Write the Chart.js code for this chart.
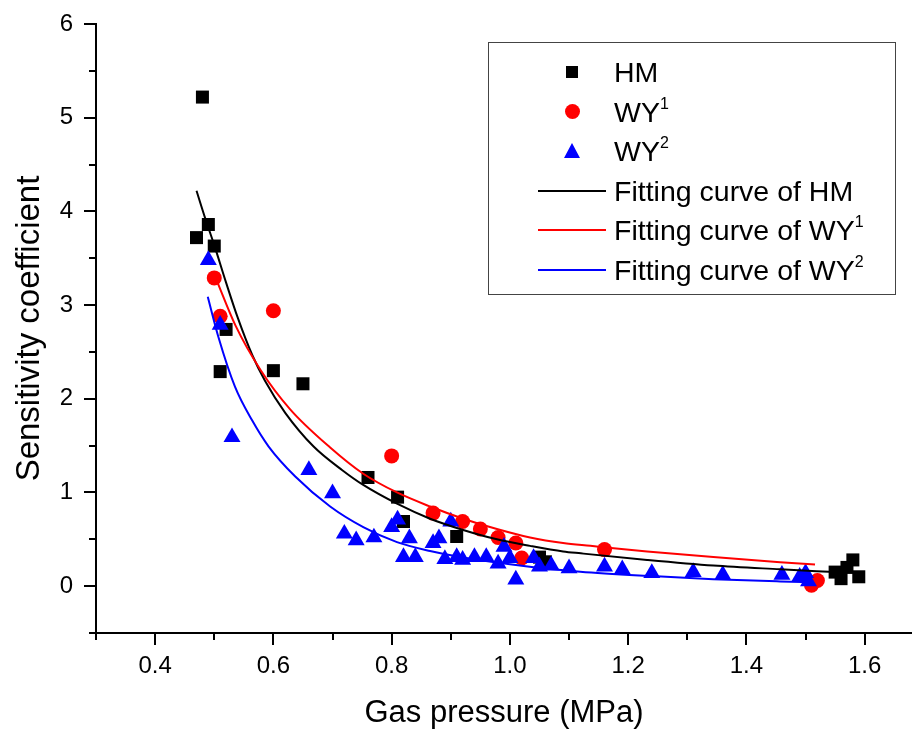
<!DOCTYPE html>
<html>
<head>
<meta charset="utf-8">
<script src="https://cdn.jsdelivr.net/npm/chart.js@4.4.1/dist/chart.umd.min.js"></script>
<style>
    body {margin: 0; background: #fff;}
    #wrap {position: relative; width: 912px; height: 731px;}
    #legend {position: absolute; left: 488px; top: 42px; width: 406px; height: 251px; border: 1px solid #444;
        font-family: 'Liberation Sans', Arial, sans-serif; font-size: 28.5px; color: #000;}
    #legend .row {position: absolute; left: 0; width: 100%; height: 40px; line-height: 40px; white-space: nowrap;}
    #legend .txt {position: absolute; left: 125px; top: 0;}
    #legend sup {font-size: 16px; vertical-align: baseline; position: relative; top: -13px; line-height: 0;}
    #legend .mk {position: absolute;}
</style>
</head>
<body>
<div id="wrap">
    <canvas id="myChart" width="912" height="731"></canvas>
    <div id="legend"></div>
</div>
<script>
// scatter data
const hmX = [0.47, 0.48, 0.49, 0.50, 0.51, 0.52, 0.60, 0.65, 0.76, 0.81, 0.82, 0.91, 1.05, 1.06, 1.55, 1.56, 1.57, 1.58, 1.59];
const hmY = [3.72, 5.22, 3.86, 3.63, 2.29, 2.74, 2.30, 2.16, 1.16, 0.95, 0.69, 0.53, 0.31, 0.26, 0.15, 0.08, 0.20, 0.28, 0.10];

const wy1X = [0.50, 0.51, 0.60, 0.80, 0.87, 0.92, 0.95, 0.98, 1.01, 1.02, 1.16, 1.51, 1.52];
const wy1Y = [3.29, 2.88, 2.94, 1.39, 0.78, 0.69, 0.61, 0.52, 0.46, 0.30, 0.39, 0.01, 0.06];

const wy2X = [0.49, 0.51, 0.53, 0.66, 0.70, 0.72, 0.74, 0.77, 0.80, 0.81, 0.83, 0.82, 0.84, 0.87, 0.88, 0.89, 0.90, 0.91, 0.92,
    0.94, 0.96, 0.98, 0.99, 1.00, 1.01, 1.04, 1.05, 1.07, 1.10, 1.16, 1.19, 1.24, 1.31, 1.36, 1.46, 1.49, 1.50, 1.505];
const wy2Y = [3.48, 2.79, 1.59, 1.24, 0.99, 0.56, 0.49, 0.52, 0.63, 0.71, 0.51, 0.31, 0.31, 0.46, 0.51, 0.29, 0.69, 0.31, 0.28,
    0.31, 0.31, 0.24, 0.42, 0.30, 0.07, 0.30, 0.21, 0.22, 0.19, 0.21, 0.18, 0.14, 0.15, 0.12, 0.12, 0.10, 0.14, 0.05];

// fitting curves, points
const fitHmX = [0.47, 0.485, 0.50, 0.52, 0.54, 0.564, 0.586, 0.62, 0.668, 0.716, 0.752, 0.809, 0.865, 0.921, 0.978, 1.034, 1.09, 1.12, 1.232, 1.344, 1.457, 1.55];
const fitHmY = [4.22, 3.92, 3.64, 3.24, 2.86, 2.47, 2.19, 1.85, 1.49, 1.24, 1.08, 0.88, 0.72, 0.60, 0.50, 0.43, 0.37, 0.35, 0.28, 0.22, 0.18, 0.15];

const fitWy1X = [0.503, 0.536, 0.578, 0.628, 0.696, 0.752, 0.809, 0.865, 0.921, 0.978, 1.034, 1.09, 1.136, 1.232, 1.344, 1.457, 1.516];
const fitWy1Y = [3.28, 2.78, 2.31, 1.89, 1.48, 1.20, 1.00, 0.85, 0.72, 0.61, 0.52, 0.46, 0.43, 0.37, 0.31, 0.255, 0.23];

const fitWy2X = [0.489, 0.507, 0.535, 0.564, 0.592, 0.637, 0.696, 0.752, 0.809, 0.865, 0.921, 1.03, 1.119, 1.232, 1.344, 1.457, 1.513];
const fitWy2Y = [3.09, 2.66, 2.13, 1.77, 1.49, 1.17, 0.85, 0.63, 0.47, 0.375, 0.305, 0.21, 0.155, 0.11, 0.075, 0.05, 0.04];

const seriesNames = ['HM', 'WY¹', 'WY²'];
const seriesColors = ['#000000', '#ff0000', '#0000ff'];
const xTicks = [0.4, 0.6, 0.8, 1.0, 1.2, 1.4, 1.6];
const xMinor = [0.3, 0.5, 0.7, 0.9, 1.1, 1.3, 1.5];
const yTicks = [0, 1, 2, 3, 4, 5, 6];
const yMinor = [-0.5, 0.5, 1.5, 2.5, 3.5, 4.5, 5.5];

const pts = (xs, ys) => xs.map((x, i) => ({x: x, y: ys[i]}));

function scatterSet(i, xs, ys, style, radius, order) {
    return {
        label: seriesNames[i], data: pts(xs, ys), order: order,
        pointStyle: style, pointRadius: radius, pointHoverRadius: radius,
        backgroundColor: seriesColors[i], borderColor: seriesColors[i], pointBorderWidth: 0,
        showLine: false
    };
}

function fitSet(i, xs, ys, order) {
    return {
        label: 'Fitting curve of ' + seriesNames[i], data: pts(xs, ys), order: order,
        type: 'line', showLine: true, pointRadius: 0, borderWidth: 2, fill: false,
        borderColor: seriesColors[i], backgroundColor: seriesColors[i],
        cubicInterpolationMode: 'monotone'
    };
}

// outward tick marks on both axes
const axisTicks = {
    id: 'axisTicks',
    afterDraw(chart) {
        const {ctx, chartArea: a, scales: {x, y}} = chart;
        ctx.save();
        ctx.strokeStyle = '#000';
        ctx.lineWidth = 2;
        ctx.beginPath();
        const xt = (v, len) => { const p = Math.round(x.getPixelForValue(v)); ctx.moveTo(p, a.bottom); ctx.lineTo(p, a.bottom + len); };
        const yt = (v, len) => { const p = Math.round(y.getPixelForValue(v)); ctx.moveTo(a.left, p); ctx.lineTo(a.left - len, p); };
        xTicks.forEach(v => xt(v, 12));
        xMinor.forEach(v => xt(v, 7));
        yTicks.forEach(v => yt(v, 12));
        yMinor.forEach(v => yt(v, 7));
        ctx.stroke();
        ctx.restore();
    }
};

Chart.defaults.font.family = "'Liberation Sans', Arial, sans-serif";
Chart.defaults.color = '#000';

const datasets = [
    fitSet(2, fitWy2X, fitWy2Y, 0),
    fitSet(1, fitWy1X, fitWy1Y, 1),
    fitSet(0, fitHmX, fitHmY, 2),
    scatterSet(2, wy2X, wy2Y, 'triangle', 9.8, 3),
    scatterSet(1, wy1X, wy1Y, 'circle', 7.5, 4),
    scatterSet(0, hmX, hmY, 'rect', 9.2, 5)
];

const myChart = new Chart(document.getElementById('myChart'), {
    type: 'scatter',
    data: {datasets: datasets},
    options: {
        responsive: false,
        animation: false,
        devicePixelRatio: 1,
        layout: {autoPadding: false, padding: {top: 24, left: 0, right: 0, bottom: 0}},
        plugins: {legend: {display: false}, tooltip: {enabled: false}},
        scales: {
            x: {
                type: 'linear', min: 0.3, max: 1.68, bounds: 'data',
                afterBuildTicks: s => { s.ticks = xTicks.map(v => ({value: v})); },
                afterFit: s => { s.height = 98; s.paddingLeft = 0; s.paddingRight = 0; },
                grid: {display: false, drawTicks: false},
                border: {display: true, color: '#000', width: 2},
                ticks: {color: '#000', font: {size: 24}, padding: 19, callback: v => v.toFixed(1)},
                title: {display: true, text: 'Gas pressure (MPa)', color: '#000', font: {size: 31, lineHeight: 1.1}, padding: {top: 0, bottom: 0}}
            },
            y: {
                type: 'linear', min: -0.5, max: 6, bounds: 'data',
                afterBuildTicks: s => { s.ticks = yTicks.map(v => ({value: v})); },
                afterFit: s => { s.width = 96; s.paddingTop = 0; s.paddingBottom = 0; },
                grid: {display: false, drawTicks: false},
                border: {display: true, color: '#000', width: 2},
                ticks: {color: '#000', font: {size: 24}, padding: 23, callback: v => String(v)},
                title: {display: true, text: 'Sensitivity coefficient', color: '#000', font: {size: 33, lineHeight: 1.1}, padding: {top: 12, bottom: 0}}
            }
        }
    },
    plugins: [axisTicks]
});

// legend box, built from the same series names and colours
const legend = document.getElementById('legend');
const supName = s => s.replace('¹', '<sup>1</sup>').replace('²', '<sup>2</sup>');
const markers = [
    c => `<div class="mk" style="left:77px;top:14px;width:12px;height:12px;background:${c}"></div>`,
    c => `<div class="mk" style="left:75.5px;top:12.5px;width:15px;height:15px;border-radius:50%;background:${c}"></div>`,
    c => `<div class="mk" style="left:74.5px;top:12px;width:0;height:0;border-left:8.5px solid transparent;border-right:8.5px solid transparent;border-bottom:15px solid ${c}"></div>`
];
let html = '';
seriesNames.forEach((n, i) => {
    html += `<div class="row" style="top:${9 + i * 39.5}px">${markers[i](seriesColors[i])}<span class="txt">${supName(n)}</span></div>`;
});
seriesNames.forEach((n, i) => {
    html += `<div class="row" style="top:${9 + (i + 3) * 39.5}px"><div class="mk" style="left:49px;top:19px;width:68px;height:2px;background:${seriesColors[i]}"></div><span class="txt">Fitting curve of ${supName(n)}</span></div>`;
});
legend.innerHTML = html;
</script>
</body>
</html>
